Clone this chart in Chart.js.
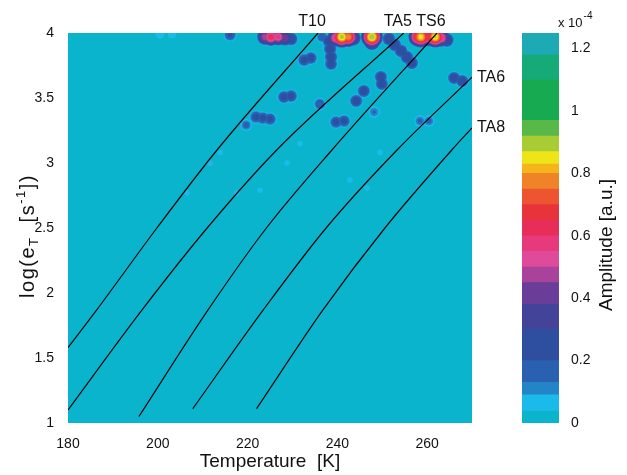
<!DOCTYPE html>
<html>
<head>
<meta charset="utf-8">
<script src="https://cdn.jsdelivr.net/npm/chart.js@4"></script>
<style>
  html, body { margin: 0; padding: 0; background: #fff; }
  #wrap { position: relative; width: 627px; height: 475px; }
  #map { position: absolute; left: 0; top: 0; }
  #cbar { position: absolute; left: 505px; top: 0; }
</style>
</head>
<body>
<div id="wrap">
  <canvas id="map" width="627" height="475" style="width:627px;height:475px"></canvas>
  <canvas id="cbar" width="122" height="475" style="width:122px;height:475px"></canvas>
</div>
<script>
// --- axes ---
var xTicks = [180, 200, 220, 240, 260];
var yTicks = [1, 1.5, 2, 2.5, 3, 3.5, 4];
var cbarTicks = [0, 0.2, 0.4, 0.6, 0.8, 1, 1.2];

// --- Arrhenius curves (T [K], log e_T) ---
var curveNames = ['T10', 'TA5', 'TS6', 'TA6', 'TA8'];
var t10T = [180, 186.4, 199.8, 213.2, 235.7];
var t10Log = [1.58, 1.87, 2.5, 3.1, 4.0];
var ta5T = [180, 196.5, 211, 226.5, 254.8];
var ta5Log = [1.10, 1.87, 2.5, 3.1, 4.0];
var ts6T = [195.8, 211.2, 224.2, 238.8, 262.2];
var ts6Log = [1.05, 1.87, 2.5, 3.1, 4.0];
var ta6T = [207.8, 223.5, 237.5, 253.3, 270];
var ta6Log = [1.11, 1.87, 2.5, 3.1, 3.66];
var ta8T = [222, 236.8, 250.6, 265.5, 270];
var ta8Log = [1.11, 1.87, 2.5, 3.1, 3.27];

// --- DLTS amplitude peaks (T [K], log e_T, amplitude x1e-4) ---
var peakT = [223.9, 225.2, 226.8, 228.3, 229.7,          // pink peak
             216.1, 200.5, 203.2,                          // weak top-left
             236.6, 238.1, 238.4, 238.6, 238.6, 232.6, 234.1, // near T10
             239.7, 241.0, 242.4, 243.5,                   // yellow peak
             247.7, 247.7,                                 // small green peak
             251.5, 252.8, 254.2, 255.5, 256.6,            // along TA5
             258.0, 258.6, 260.2, 261.8, 263.1, 264.4,     // TS6 peak
             266.0, 267.8, 249.7, 249.9, 245.9, 244.2,
             228.1, 229.7, 236.1, 221.9, 223.4, 225.0, 219.7,
             239.7, 241.5, 258.4, 260.4, 248.2,
             213.9, 211.6, 228.8, 222.8, 206.5, 217.6, 231.7, 242.8, 249.5, 246.6];
var peakLog = [3.97, 3.97, 3.97, 3.962, 3.954,
               3.985, 3.99, 3.99,
               3.97, 3.938, 3.877, 3.815, 3.762, 3.792, 3.808,
               3.962, 3.97, 3.97, 3.962,
               3.97, 3.93,
               3.954, 3.908, 3.862, 3.815, 3.769,
               3.97, 3.97, 3.97, 3.97, 3.962, 3.946,
               3.654, 3.631, 3.662, 3.608, 3.554, 3.477,
               3.508, 3.515, 3.454, 3.354, 3.346, 3.338, 3.292,
               3.315, 3.323, 3.323, 3.323, 3.392,
               3.08, 3.0, 3.0, 2.79, 2.77, 2.77, 3.15, 2.87, 3.08, 2.81];
var peakAmp = [0.5, 0.64, 0.58, 0.45, 0.3,
               0.22, 0.07, 0.07,
               0.18, 0.28, 0.28, 0.28, 0.26, 0.25, 0.25,
               0.6, 0.9, 0.8, 0.45,
               0.92, 0.5,
               0.3, 0.3, 0.3, 0.3, 0.28,
               0.75, 0.86, 0.7, 0.88, 0.6, 0.35,
               0.27, 0.27, 0.27, 0.27, 0.27, 0.27,
               0.25, 0.25, 0.2, 0.24, 0.24, 0.24, 0.16,
               0.24, 0.24, 0.15, 0.15, 0.14,
               0.05, 0.05, 0.05, 0.05, 0.05, 0.05, 0.05, 0.05, 0.05, 0.05];

// --- colour map (band edges x1e-4) ---
var cbarEdges = [0, 0.04, 0.09, 0.13, 0.2, 0.3, 0.38, 0.45, 0.5, 0.55, 0.6, 0.65, 0.7,
                 0.75, 0.8, 0.83, 0.87, 0.92, 0.97, 1.1, 1.18, 1.25];
var cbarColors = ['#0ab4cc', '#1abbea', '#2384c8', '#2a60b0', '#2e4ea0', '#43439a',
                  '#6a3e98', '#a8429a', '#e04a9a', '#e63a7c', '#e62e58', '#e8333a',
                  '#ec5530', '#f08228', '#f4b41a', '#eee418', '#a8cd34', '#58b848',
                  '#18aa50', '#16aa78', '#1eaab4'];

var bgColor = cbarColors[0];
var inkColor = '#111';
var fontFamily = '"Liberation Sans", Arial, Helvetica, sans-serif';

function pts(xs, ys) {
    return xs.map(function(x, i) { return { x: x, y: ys[i] }; });
}

var curves = [pts(t10T, t10Log), pts(ta5T, ta5Log), pts(ts6T, ts6Log), pts(ta6T, ta6Log), pts(ta8T, ta8Log)];

var peaks = peakT.map(function(t, i) { return { x: t, y: peakLog[i], a: peakAmp[i] }; });

function drawRuns(ctx, runs) {
    // runs: [text, size, dy]; drawn centred on 0
    var total = 0;
    runs.forEach(function(r) {
        ctx.font = r[1] + 'px ' + fontFamily;
        total += ctx.measureText(r[0]).width;
    });
    var x = -total / 2;
    runs.forEach(function(r) {
        ctx.font = r[1] + 'px ' + fontFamily;
        ctx.fillText(r[0], x, r[2]);
        x += ctx.measureText(r[0]).width;
    });
}

var datasets = [];

// filled contour bands, one dataset per level above the base colour
for (var k = 1; k < cbarEdges.length - 1; k++) {
    (function(level, color, idx) {
        datasets.push({
            type: 'scatter',
            data: peaks.filter(function(p) { return p.a > level; }),
            backgroundColor: color,
            borderWidth: 0,
            pointBorderWidth: 0,
            pointRadius: function(ctx) {
                var p = ctx.raw;
                if (!p) return 0;
                // bigger peaks spread wider
                return (6 + 6 * p.a) * Math.sqrt(1 - level / p.a);
            },
            showLine: false,
            clip: 0,
            order: 200 - idx
        });
    })(cbarEdges[k], cbarColors[k], k);
}

curves.forEach(function(c, i) {
    datasets.push({
        type: 'scatter',
        label: curveNames[i],
        data: c,
        showLine: true,
        borderColor: '#080808',
        borderWidth: 1.2,
        pointRadius: 0,
        cubicInterpolationMode: 'monotone',
        fill: false,
        clip: 0,
        order: 0
    });
});

var mapPlugin = {
    id: 'mapDecor',
    beforeDatasetsDraw: function(chart) {
        var a = chart.chartArea, ctx = chart.ctx;
        ctx.save();
        ctx.fillStyle = bgColor;
        ctx.fillRect(a.left, a.top, a.right - a.left, a.bottom - a.top);
        ctx.restore();
    },
    afterDraw: function(chart) {
        var ctx = chart.ctx, xs = chart.scales.x, ys = chart.scales.y, a = chart.chartArea;
        ctx.save();
        ctx.fillStyle = inkColor;
        ctx.font = '16px ' + fontFamily;
        ctx.textBaseline = 'middle';
        curves.forEach(function(c, i) {
            var last = c[c.length - 1];
            var px = xs.getPixelForValue(last.x);
            var py = ys.getPixelForValue(last.y);
            if (last.y >= 4) {
                ctx.textAlign = 'center';
                ctx.fillText(curveNames[i], px - 6, a.top - 11);
            } else {
                ctx.textAlign = 'left';
                ctx.fillText(curveNames[i], a.right + 5, py);
            }
        });
        // y axis title with sub/superscripts
        ctx.translate(27, 236);
        ctx.rotate(-Math.PI / 2);
        ctx.textAlign = 'left';
        ctx.textBaseline = 'alphabetic';
        ctx.letterSpacing = '1.5px';
        drawRuns(ctx, [['log(e', 20, 7], ['T', 13, 11], ['  [s', 20, 7], ['-1', 13, -2], ['])', 20, 7]]);
        ctx.restore();
    }
};

new Chart(document.getElementById('map'), {
    type: 'scatter',
    data: { datasets: datasets },
    options: {
        responsive: false,
        animation: false,
        events: [],
        layout: { padding: { left: 0, top: 33, right: 155, bottom: 0 } },
        plugins: { legend: { display: false }, tooltip: { enabled: false } },
        scales: {
            x: {
                type: 'linear', min: 180, max: 270,
                grid: { display: false }, border: { display: false },
                afterBuildTicks: function(s) { s.ticks = xTicks.map(function(v) { return { value: v }; }); },
                afterFit: function(s) { s.height = 52; },
                ticks: { color: inkColor, padding: 5, font: { size: 14, family: fontFamily }, maxRotation: 0,
                         callback: function(v) { return String(v); } },
                title: { display: true, text: 'Temperature  [K]', color: inkColor,
                         font: { size: 19, family: fontFamily }, padding: { top: 0, bottom: 2 } }
            },
            y: {
                type: 'linear', min: 1, max: 4,
                grid: { display: false }, border: { display: false },
                afterBuildTicks: function(s) { s.ticks = yTicks.map(function(v) { return { value: v }; }); },
                afterFit: function(s) { s.width = 68; },
                ticks: { color: inkColor, padding: 6, font: { size: 14, family: fontFamily },
                         callback: function(v) { return String(v); } }
            }
        }
    },
    plugins: [mapPlugin]
});

// --- colour bar ---
var cbarPlugin = {
    id: 'cbarDecor',
    afterDraw: function(chart) {
        var ctx = chart.ctx;
        ctx.save();
        ctx.fillStyle = inkColor;
        ctx.textBaseline = 'alphabetic';
        ctx.textAlign = 'left';
        ctx.font = '13px ' + fontFamily;
        ctx.fillText('x 10', 53, 27);
        var w = ctx.measureText('x 10').width;
        ctx.font = '10px ' + fontFamily;
        ctx.fillText('-4', 53 + w + 1, 19);
        ctx.translate(102, 245);
        ctx.rotate(-Math.PI / 2);
        ctx.textAlign = 'center';
        ctx.textBaseline = 'middle';
        ctx.font = '19px ' + fontFamily;
        ctx.fillText('Amplitude [a.u.]', 0, 0);
        ctx.restore();
    }
};

new Chart(document.getElementById('cbar'), {
    type: 'bar',
    data: {
        labels: [''],
        datasets: cbarColors.map(function(c, i) {
            return {
                data: [[cbarEdges[i], cbarEdges[i + 1]]],
                backgroundColor: c,
                borderWidth: 0,
                barPercentage: 1,
                categoryPercentage: 1,
                grouped: false
            };
        })
    },
    options: {
        responsive: false,
        animation: false,
        events: [],
        layout: { padding: { left: 17, top: 33, right: 0, bottom: 52 } },
        plugins: { legend: { display: false }, tooltip: { enabled: false } },
        scales: {
            x: { display: false },
            y: {
                position: 'right', min: 0, max: 1.25,
                grid: { display: false }, border: { display: false },
                afterBuildTicks: function(s) { s.ticks = cbarTicks.map(function(v) { return { value: v }; }); },
                afterFit: function(s) { s.width = 68; },
                ticks: { color: inkColor, padding: 4, font: { size: 14, family: fontFamily },
                         callback: function(v) { return String(v); } }
            }
        }
    },
    plugins: [cbarPlugin]
});
</script>
</body>
</html>
